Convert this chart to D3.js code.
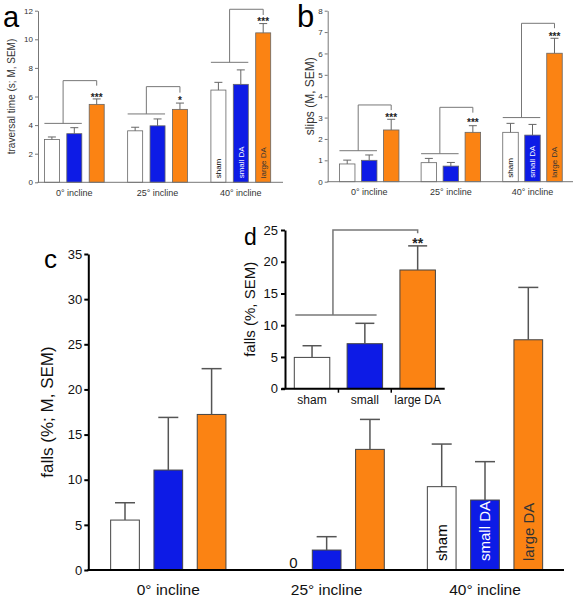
<!DOCTYPE html>
<html><head><meta charset="utf-8">
<script src="https://cdn.jsdelivr.net/npm/d3@7"></script>
<style>body{margin:0;background:#fff}svg{display:block;font-family:"Liberation Sans",Arial,sans-serif}</style>
</head><body>
<svg id="chart" width="581" height="600"></svg>
<script>
// ---------- data ----------
const groups = ["0° incline", "25° incline", "40° incline"];
const series = ["sham", "small DA", "large DA"];
const insetCats = ["sham", "small", "large DA"];
const colors = ["#ffffff", "#0d1be6", "#fb8313"];
const barTextColors = ["#000", "#fff", "#333"];

// panel a: traversal time (s)
const travMean = [[3.0, 3.4, 5.45], [3.6, 3.95, 5.1], [6.45, 6.85, 10.45]];
const travErr  = [[0.17, 0.42, 0.38], [0.25, 0.48, 0.44], [0.54, 1.01, 0.65]];
const travTicks = [0, 2, 4, 6, 8, 10, 12];
const travBracket = {base: [4.12, 4.78, 8.39], top: [7.11, 6.69, 12.1], end: [6.76, 6.27, 11.7],
                     stars: ["***", "*", "***"], starY: [6.1, 5.85, 11.4]};

// panel b: slips
const slipMean = [[0.83, 1.0, 2.42], [0.89, 0.73, 2.31], [2.31, 2.18, 6.01]];
const slipErr  = [[0.18, 0.25, 0.5], [0.2, 0.17, 0.31], [0.42, 0.5, 0.7]];
const slipTicks = [0, 1, 2, 3, 4, 5, 6, 7, 8];
const slipBracket = {base: [1.45, 1.31, 3.0], top: [3.59, 3.48, 7.41], end: [3.35, 3.23, 7.18],
                     stars: ["***", "***", "***"], starY: [3.12, 2.89, 6.9]};

// panel c: falls (%)
const fallMean = [[5.53, 11.07, 17.23], [0, 2.21, 13.36], [9.23, 7.75, 25.5]];
const fallErr  = [[1.92, 5.83, 5.07], [0, 1.48, 3.32], [4.72, 4.25, 5.8]];
const fallTicks = [0, 5, 10, 15, 20, 25, 30, 35];

// panel d: pooled falls (%)
const pooledMean = [4.93, 7.09, 18.7];
const pooledErr  = [1.84, 3.21, 3.8];
const pooledTicks = [0, 5, 10, 15, 20, 25];
const pooledBracket = {base: 11.6, top: 25, end: 24.5, stars: "**", starY: 23.4};

// ---------- drawing ----------
const svg = d3.select("#chart");

function groupedPanel(o) {
  const g = svg.append("g");
  const y = d3.scaleLinear().domain(o.yDomain).range(o.yRange);
  const gx = d3.scalePoint().domain(groups).range(o.groupRange);
  const ix = d3.scaleBand().domain(series).range([-o.innerW / 2, o.innerW / 2]).paddingInner(o.innerPad).paddingOuter(0);
  const bw = ix.bandwidth();
  const bx = (gi, si) => gx(groups[gi]) + ix(series[si]);

  // bars
  o.mean.forEach((row, gi) => row.forEach((v, si) => {
    if (v <= 0) return;
    g.append("rect").attr("x", bx(gi, si)).attr("y", y(v))
      .attr("width", bw).attr("height", y(0) - y(v))
      .attr("fill", colors[si]).attr("stroke", o.barStroke).attr("stroke-width", o.barSW);
  }));
  // error bars
  o.mean.forEach((row, gi) => row.forEach((v, si) => {
    const e = o.err[gi][si];
    if (e <= 0) return;
    const cx = bx(gi, si) + bw / 2;
    g.append("line").attr("x1", cx).attr("x2", cx).attr("y1", y(v)).attr("y2", y(v + e))
      .attr("stroke", o.errColor).attr("stroke-width", o.errSW);
    g.append("line").attr("x1", cx - o.cap / 2).attr("x2", cx + o.cap / 2).attr("y1", y(v + e)).attr("y2", y(v + e))
      .attr("stroke", o.errColor).attr("stroke-width", o.errSW);
  }));
  // axes
  const yAxis = d3.axisLeft(y).tickValues(o.ticks).tickSize(o.tickLen).tickPadding(o.tickPad).tickSizeOuter(0);
  const ya = g.append("g").attr("transform", `translate(${o.axisX0},0)`).call(yAxis);
  ya.select(".domain").attr("stroke", o.axisColor).attr("stroke-width", o.axisSW);
  ya.selectAll(".tick line").attr("stroke", o.axisColor).attr("stroke-width", o.axisSW);
  ya.selectAll(".tick text").attr("font-size", o.tickFont).attr("fill", o.tickColor).attr("font-family", "Liberation Sans, Arial, sans-serif");
  g.append("line").attr("x1", o.axisX0 - o.axisSW / 2).attr("x2", o.axisX1).attr("y1", y(0)).attr("y2", y(0))
    .attr("stroke", o.axisColor).attr("stroke-width", o.axisSW);
  // x labels
  groups.forEach(gr => g.append("text").attr("x", gx(gr)).attr("y", o.xLabelY)
    .attr("text-anchor", "middle").attr("font-size", o.xFont).attr("fill", o.tickColor).text(gr));
  // y label
  g.append("text").attr("transform", `translate(${o.yLabelX},${(o.yRange[0] + o.yRange[1]) / 2}) rotate(-90)`)
    .attr("text-anchor", "middle").attr("font-size", o.yLabelFont).attr("fill", o.tickColor).text(o.yLabel);
  // panel letter
  g.append("text").attr("x", o.letterX).attr("y", o.letterY).attr("font-size", o.letterFont).attr("fill", "#000").text(o.letter);
  // in-bar labels on the last group
  series.forEach((s, si) => {
    const cx = bx(2, si) + bw / 2 + o.barFont * 0.35;
    g.append("text").attr("transform", `translate(${cx},${y(0) - o.barTextOff}) rotate(-90)`)
      .attr("font-size", o.barFont).attr("fill", barTextColors[si]).text(s);
  });
  // brackets
  if (o.bracket) {
    const b = o.bracket;
    groups.forEach((gr, gi) => {
      const xa = bx(gi, 0), xb = bx(gi, 1) + bw, xm = (xa + xb) / 2, xr = bx(gi, 2) + bw / 2;
      g.append("line").attr("x1", xa).attr("x2", xb).attr("y1", y(b.base[gi])).attr("y2", y(b.base[gi]))
        .attr("stroke", o.brColor).attr("stroke-width", o.brSW);
      g.append("path").attr("d", `M${xm},${y(b.base[gi])}V${y(b.top[gi])}H${xr}V${y(b.end[gi])}`)
        .attr("fill", "none").attr("stroke", o.brColor).attr("stroke-width", o.brSW);
      g.append("text").attr("x", xr).attr("y", y(b.starY[gi]) + o.starFont * 0.58)
        .attr("text-anchor", "middle").attr("font-size", o.starFont).attr("font-weight", "bold").attr("fill", "#222").text(b.stars[gi]);
    });
  }
  return {g, y, gx, ix, bx, bw};
}

// panel a
groupedPanel({
  mean: travMean, err: travErr, ticks: travTicks, bracket: travBracket,
  yDomain: [0, 12], yRange: [182.3, 10.7], groupRange: [74.3, 240.8], innerW: 59.8, innerPad: 0.33,
  axisX0: 38, axisX1: 283, axisColor: "#777", axisSW: 1, tickLen: 3, tickPad: 2, tickFont: 8, tickColor: "#333",
  barStroke: "#666", barSW: 0.8, errColor: "#666", errSW: 1, cap: 8,
  xLabelY: 196, xFont: 9, yLabelX: 15, yLabelFont: 10, yLabel: "traversal time (s; M, SEM)",
  letter: "a", letterX: 3, letterY: 27, letterFont: 29, barFont: 8, barTextOff: 4,
  brColor: "#777", brSW: 1, starFont: 10
});

// panel b
groupedPanel({
  mean: slipMean, err: slipErr, ticks: slipTicks, bracket: slipBracket,
  yDomain: [0, 8], yRange: [181.7, 10.7], groupRange: [369.2, 532.5], innerW: 59.5, innerPad: 0.295,
  axisX0: 327.7, axisX1: 573, axisColor: "#777", axisSW: 1, tickLen: 3, tickPad: 2, tickFont: 8, tickColor: "#333",
  barStroke: "#666", barSW: 0.8, errColor: "#666", errSW: 1, cap: 8,
  xLabelY: 195, xFont: 9, yLabelX: 314, yLabelFont: 12, yLabel: "slips (M, SEM)",
  letter: "b", letterX: 297, letterY: 27, letterFont: 31, barFont: 8, barTextOff: 4,
  brColor: "#777", brSW: 1, starFont: 10
});

// panel c
const pc = groupedPanel({
  mean: fallMean, err: fallErr, ticks: fallTicks, bracket: null,
  yDomain: [0, 35], yRange: [570, 254], groupRange: [168.3, 485], innerW: 115.3, innerPad: 0.337,
  axisX0: 88.3, axisX1: 564, axisColor: "#000", axisSW: 2, tickLen: 4, tickPad: 2, tickFont: 13, tickColor: "#111",
  barStroke: "#444", barSW: 1, errColor: "#555", errSW: 1.5, cap: 20,
  xLabelY: 595, xFont: 15.5, yLabelX: 53, yLabelFont: 17, yLabel: "falls (%; M, SEM)",
  letter: "c", letterX: 44, letterY: 268, letterFont: 26, barFont: 15, barTextOff: 9,
  brColor: "#777", brSW: 1, starFont: 10
});
// zero marker for empty bar
fallMean.forEach((row, gi) => row.forEach((v, si) => {
  if (v === 0) pc.g.append("text").attr("x", pc.bx(gi, si) + pc.bw).attr("y", pc.y(0) - 2)
    .attr("text-anchor", "end").attr("font-size", 15).attr("fill", "#111").text("0");
}));

// panel d (inset)
(function () {
  const g = svg.append("g");
  const y = d3.scaleLinear().domain([0, 25]).range([388.7, 230]);
  const x = d3.scaleBand().domain(insetCats).range([285, 444.7]).paddingInner(0.328).paddingOuter(0.176);
  const bw = x.bandwidth();
  insetCats.forEach((c, i) => {
    g.append("rect").attr("x", x(c)).attr("y", y(pooledMean[i])).attr("width", bw).attr("height", y(0) - y(pooledMean[i]))
      .attr("fill", colors[i]).attr("stroke", "#444").attr("stroke-width", 1);
    const cx = x(c) + bw / 2, t = y(pooledMean[i] + pooledErr[i]);
    g.append("line").attr("x1", cx).attr("x2", cx).attr("y1", y(pooledMean[i])).attr("y2", t).attr("stroke", "#555").attr("stroke-width", 1.5);
    g.append("line").attr("x1", cx - 9.5).attr("x2", cx + 9.5).attr("y1", t).attr("y2", t).attr("stroke", "#555").attr("stroke-width", 1.5);
    g.append("text").attr("x", cx).attr("y", 404).attr("text-anchor", "middle").attr("font-size", 12).attr("fill", "#111").text(c);
  });
  const ya = g.append("g").attr("transform", "translate(285,0)")
    .call(d3.axisLeft(y).tickValues(pooledTicks).tickSize(4).tickPadding(3).tickSizeOuter(0));
  ya.select(".domain").attr("stroke", "#000").attr("stroke-width", 2);
  ya.selectAll(".tick line").attr("stroke", "#000").attr("stroke-width", 2);
  ya.selectAll(".tick text").attr("font-size", 13).attr("fill", "#111").attr("font-family", "Liberation Sans, Arial, sans-serif");
  g.append("line").attr("x1", 281.5).attr("x2", 444.7).attr("y1", y(0)).attr("y2", y(0)).attr("stroke", "#000").attr("stroke-width", 2);
  // category separators on x axis
  [1, 2].forEach(i => {
    const xs = (x(insetCats[i - 1]) + bw + x(insetCats[i])) / 2;
    g.append("line").attr("x1", xs).attr("x2", xs).attr("y1", y(0)).attr("y2", y(0) + 4).attr("stroke", "#000").attr("stroke-width", 1.5);
  });
  // bracket
  const b = pooledBracket;
  const xa = x(insetCats[0]) + 1, xb = x(insetCats[1]) + bw - 6, xm = (xa + xb) / 2 - 3, xr = x(insetCats[2]) + bw / 2;
  g.append("line").attr("x1", xa).attr("x2", xb).attr("y1", y(b.base)).attr("y2", y(b.base)).attr("stroke", "#777").attr("stroke-width", 1.5);
  g.append("path").attr("d", `M${xm},${y(b.base)}V${y(b.top)}H${xr}V${y(b.end)}`).attr("fill", "none").attr("stroke", "#777").attr("stroke-width", 1.5);
  g.append("text").attr("x", xr).attr("y", y(b.starY) + 14 * 0.58).attr("text-anchor", "middle").attr("font-size", 14).attr("font-weight", "bold").attr("fill", "#222").text(b.stars);
  g.append("text").attr("transform", `translate(255,${(y(0) + y(25)) / 2}) rotate(-90)`).attr("text-anchor", "middle")
    .attr("font-size", 15).attr("fill", "#111").text("falls (%, SEM)");
  g.append("text").attr("x", 244).attr("y", 245).attr("font-size", 23).attr("fill", "#000").text("d");
})();
</script>
</body></html>
